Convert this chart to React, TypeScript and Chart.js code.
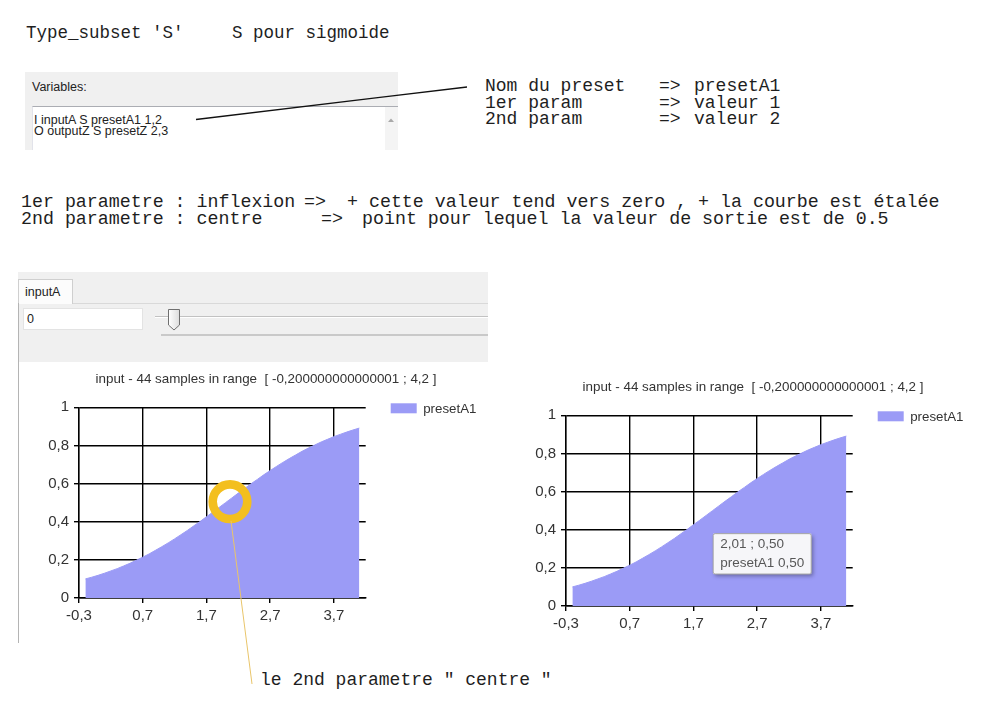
import React, { useEffect, useRef } from "react";
import { Chart, registerables, Tooltip } from "chart.js";

Chart.register(...registerables);

// ---- data ----
const XS = [
  -0.2, -0.1, 0.0, 0.1, 0.2, 0.3, 0.4, 0.5, 0.6, 0.7, 0.8, 0.9, 1.0, 1.1, 1.2,
  1.3, 1.4, 1.5, 1.6, 1.7, 1.8, 1.9, 2.0, 2.1, 2.2, 2.3, 2.4, 2.5, 2.6, 2.7,
  2.8, 2.9, 3.0, 3.1, 3.2, 3.3, 3.4, 3.5, 3.6, 3.7, 3.8, 3.9, 4.0, 4.1,
];
const YS = [
  0.1, 0.109, 0.119, 0.13, 0.142, 0.154, 0.168, 0.182, 0.198, 0.214, 0.231,
  0.25, 0.269, 0.289, 0.31, 0.332, 0.354, 0.378, 0.401, 0.426, 0.45, 0.475,
  0.5, 0.525, 0.55, 0.574, 0.599, 0.622, 0.646, 0.668, 0.69, 0.711, 0.731,
  0.75, 0.769, 0.786, 0.802, 0.818, 0.832, 0.846, 0.858, 0.87, 0.881, 0.891,
];
const SERIES_LABEL = "presetA1";
const X_TICKS = [-0.3, 0.7, 1.7, 2.7, 3.7];
const X_MIN = -0.3;
const X_MAX = 4.2;
const Y_MIN = 0;
const Y_MAX = 1;
const Y_STEP = 0.2;
const CHART_TITLE = "input - 44 samples in range  [ -0,200000000000001 ; 4,2 ]";
const TOOLTIP_X = 2.01;
const TOOLTIP_Y = 0.5;
const TOOLTIP_INDEX = 22;

// ---- styling ----
const SANS = '"Liberation Sans", Arial, sans-serif';
const MONO = '"Liberation Mono", "DejaVu Sans Mono", monospace';
const FILL = "#9b9bf6";
const INK = "#1e1e1e";

const comma = (v: number, d: number) => v.toFixed(d).replace(".", ",");
const fmtTick = (v: number) =>
  String(Math.round(v * 10) / 10).replace(".", ",");

(Tooltip.positioners as any).belowCursor = function () {
  const chart = (this as any).chart;
  const x = chart.scales.x.getPixelForValue(TOOLTIP_X);
  const y = chart.scales.y.getPixelForValue(TOOLTIP_Y);
  return { x: x + 2, y: y + 23 };
};

const headerPlugin = {
  id: "header",
  beforeTooltipDraw(chart: any, args: any) {
    const tt = args.tooltip;
    const ctx = chart.ctx;
    ctx.save();
    ctx.shadowColor = "rgba(0,0,0,0.35)";
    ctx.shadowBlur = 4;
    ctx.shadowOffsetX = 2;
    ctx.shadowOffsetY = 2;
    ctx.fillStyle = "#f6f6f9";
    ctx.fillRect(tt.x, tt.y, tt.width, tt.height);
    ctx.restore();
  },
  afterDraw(chart: any, _args: any, opts: any) {
    const { ctx, chartArea } = chart;
    ctx.save();
    ctx.fillStyle = "#333";
    ctx.font = `13.4px ${SANS}`;
    ctx.textAlign = "center";
    ctx.textBaseline = "middle";
    ctx.fillText(opts.title, chart.width / 2, 17.2);
    const ds = chart.data.datasets[0];
    const sx = chartArea.right + 25;
    const sy = chartArea.top - 4;
    ctx.fillStyle = ds.backgroundColor;
    ctx.fillRect(sx, sy, 26, 10);
    ctx.fillStyle = "#333";
    ctx.font = `13.3px ${SANS}`;
    ctx.textAlign = "left";
    ctx.fillText(ds.label, sx + 32.5, sy + 6);
    ctx.restore();
  },
};

function SigmoidChart({
  left,
  top,
  showTooltip,
}: {
  left: number;
  top: number;
  showTooltip: boolean;
}) {
  const ref = useRef<HTMLCanvasElement>(null);
  useEffect(() => {
    const gridCommon = {
      color: "#000",
      lineWidth: 1.4,
      tickLength: 5,
      tickColor: "#000",
      tickWidth: 1.4,
    };
    const tickFont = { family: SANS, size: 15 };
    const chart = new Chart(ref.current as HTMLCanvasElement, {
      type: "line",
      data: {
        datasets: [
          {
            label: SERIES_LABEL,
            data: XS.map((x, i) => ({ x, y: YS[i] })),
            backgroundColor: FILL,
            borderColor: FILL,
            borderWidth: 1,
            pointRadius: 0,
            fill: "origin",
            tension: 0,
          },
        ],
      },
      options: {
        animation: false,
        responsive: false,
        events: [],
        layout: { padding: { top: 45.3, right: 146.3, left: 0, bottom: 0 } },
        plugins: {
          legend: { display: false },
          title: { display: false },
          header: { title: CHART_TITLE },
          tooltip: {
            enabled: showTooltip,
            position: "belowCursor" as any,
            xAlign: "left",
            yAlign: "top",
            caretSize: 0,
            caretPadding: 0,
            cornerRadius: 2,
            displayColors: false,
            backgroundColor: "#f6f6f9",
            borderColor: "#a3a3a3",
            borderWidth: 1,
            titleColor: "#575757",
            bodyColor: "#575757",
            titleFont: { family: SANS, size: 13.5, weight: "normal" },
            bodyFont: { family: SANS, size: 13.5 },
            titleMarginBottom: 2,
            padding: { top: 3, bottom: 3, left: 7, right: 7 },
            callbacks: {
              title: () => `${comma(TOOLTIP_X, 2)} ; ${comma(TOOLTIP_Y, 2)}`,
              label: (c: any) => `${c.dataset.label} ${comma(TOOLTIP_Y, 2)}`,
            },
          },
        } as any,
        scales: {
          x: {
            type: "linear",
            min: X_MIN,
            max: X_MAX,
            z: 1,
            afterBuildTicks: (s: any) => {
              s.ticks = X_TICKS.map((v) => ({ value: v }));
            },
            afterFit: (s: any) => {
              s.height = 30;
            },
            ticks: {
              autoSkip: false,
              maxRotation: 0,
              padding: 4,
              color: "#333",
              font: tickFont,
              callback: (v: any) => comma(Number(v), 1),
            },
            grid: gridCommon,
            border: { display: true, color: "#000", width: 1.4 },
          },
          y: {
            type: "linear",
            min: Y_MIN,
            max: Y_MAX,
            z: 1,
            afterFit: (s: any) => {
              s.width = 59;
            },
            ticks: {
              stepSize: Y_STEP,
              padding: 5,
              color: "#333",
              font: tickFont,
              callback: (v: any) => fmtTick(Number(v)),
            },
            grid: gridCommon,
            border: { display: true, color: "#000", width: 1.4 },
          },
        },
      },
      plugins: [headerPlugin as any],
    } as any);
    if (showTooltip) {
      chart.tooltip!.setActiveElements(
        [{ datasetIndex: 0, index: TOOLTIP_INDEX }],
        { x: 0, y: 0 }
      );
      chart.update();
    }
    return () => chart.destroy();
  }, [showTooltip]);
  return (
    <canvas
      ref={ref}
      width={492}
      height={266}
      style={{ position: "absolute", left, top, width: 492, height: 266 }}
    />
  );
}

function Txt({
  x,
  base,
  size,
  mono,
  children,
  color,
}: {
  x: number;
  base: number;
  size: number;
  mono?: boolean;
  children: React.ReactNode;
  color?: string;
}) {
  const k = mono ? 0.766 : 0.8465;
  return (
    <div
      style={{
        position: "absolute",
        left: x,
        top: base - k * size,
        fontFamily: mono ? MONO : SANS,
        fontSize: size,
        lineHeight: 1,
        whiteSpace: "pre",
        color: color || INK,
      }}
    >
      {children}
    </div>
  );
}

function Box(props: { l: number; t: number; w: number; h: number; style?: any }) {
  return (
    <div
      style={{
        position: "absolute",
        left: props.l,
        top: props.t,
        width: props.w,
        height: props.h,
        boxSizing: "border-box",
        ...(props.style || {}),
      }}
    />
  );
}

export default function App() {
  return (
    <div
      style={{
        position: "fixed",
        left: 0,
        top: 0,
        width: 1001,
        height: 705,
        background: "#fff",
        overflow: "hidden",
      }}
    >
      {/* heading */}
      <Txt x={26} base={38.3} size={17.5} mono>
        Type_subset 'S'
      </Txt>
      <Txt x={232} base={38.3} size={17.5} mono>
        S pour sigmoide
      </Txt>

      {/* variables panel */}
      <Box l={25} t={72} w={373} h={78} style={{ background: "#f0f0f0" }} />
      <Txt x={32} base={92} size={12.5} color="#222">
        Variables:
      </Txt>
      <Box
        l={32}
        t={106}
        w={366}
        h={44}
        style={{
          background: "#fff",
          borderTop: "1px solid #abadb3",
          borderLeft: "1px solid #e2e3ea",
        }}
      />
      <Box l={385} t={107} w={13} h={43} style={{ background: "#f4f4f4" }} />
      <Txt x={34} base={124.5} size={12.5} color="#222">
        I inputA S presetA1 1,2
      </Txt>
      <Txt x={34} base={136} size={12.5} color="#222">
        O outputZ S presetZ 2,3
      </Txt>

      {/* preset description */}
      <Txt x={485} base={91} size={18} mono>Nom du preset</Txt>
      <Txt x={659} base={91} size={18} mono>=&gt;</Txt>
      <Txt x={694} base={91} size={18} mono>presetA1</Txt>
      <Txt x={485} base={107.5} size={18} mono>1er param</Txt>
      <Txt x={659} base={107.5} size={18} mono>=&gt;</Txt>
      <Txt x={694} base={107.5} size={18} mono>valeur 1</Txt>
      <Txt x={485} base={124} size={18} mono>2nd param</Txt>
      <Txt x={659} base={124} size={18} mono>=&gt;</Txt>
      <Txt x={694} base={124} size={18} mono>valeur 2</Txt>

      {/* parameter explanation */}
      <Txt x={21} base={207} size={18.3} mono>1er parametre : inflexion</Txt>
      <Txt x={304} base={207} size={18.3} mono>=&gt;</Txt>
      <Txt x={347} base={207} size={18.3} mono>
        + cette valeur tend vers zero , + la courbe est étalée
      </Txt>
      <Txt x={21} base={224} size={18.3} mono>2nd parametre : centre</Txt>
      <Txt x={321} base={224} size={18.3} mono>=&gt;</Txt>
      <Txt x={362} base={224} size={18.3} mono>
        point pour lequel la valeur de sortie est de 0.5
      </Txt>

      {/* inputA control */}
      <Box l={18} t={272} w={470} h={90} style={{ background: "#f0f0f0" }} />
      <Box l={73} t={303} w={415} h={1} style={{ background: "#d9d9d9" }} />
      <Box
        l={18}
        t={279}
        w={55}
        h={25}
        style={{
          background: "#fcfcfc",
          border: "1px solid #cfcfcf",
          borderBottom: "none",
        }}
      />
      <Txt x={25} base={296.5} size={12.5} color="#222">
        inputA
      </Txt>
      <Box
        l={23}
        t={308}
        w={120}
        h={22}
        style={{ background: "#fff", border: "1px solid #e3e3e3" }}
      />
      <Txt x={27} base={323.5} size={12.5} color="#222">
        0
      </Txt>
      <Box
        l={155}
        t={316}
        w={333}
        h={2}
        style={{ borderTop: "1px solid #c2c2c2", borderBottom: "1px solid #fff" }}
      />
      <Box l={161} t={334} w={327} h={2} style={{ background: "#c9c9c9" }} />
      <Box l={18} t={303} w={1} h={340} style={{ background: "#b4b4b4" }} />

      <SigmoidChart left={20} top={362} showTooltip={false} />
      <SigmoidChart left={507} top={370.4} showTooltip={true} />

      <Txt x={260} base={685} size={18} mono>
        le 2nd parametre " centre "
      </Txt>

      <svg
        width={1001}
        height={705}
        style={{ position: "absolute", left: 0, top: 0, pointerEvents: "none" }}
      >
        <defs>
          <linearGradient id="thumb" x1="0" y1="0" x2="1" y2="0">
            <stop offset="0" stopColor="#ffffff" />
            <stop offset="1" stopColor="#dcdcdc" />
          </linearGradient>
        </defs>
        <line x1={196} y1={119.5} x2={467} y2={87} stroke="#111" strokeWidth={1.3} />
        <polygon points="388,122 394,122 391,118.5" fill="#a9a9a9" />
        <path
          d="M168.5 309.5 H179.5 V325 L174 330 L168.5 325 Z"
          fill="url(#thumb)"
          stroke="#6f6f6f"
          strokeWidth={1}
        />
        <circle cx={230} cy={501.7} r={17.3} fill="none" stroke="#f3bf1f" strokeWidth={8.6} />
        <line x1={231} y1={521} x2={252} y2={684} stroke="#e9c56a" strokeWidth={1} />
      </svg>
    </div>
  );
}
